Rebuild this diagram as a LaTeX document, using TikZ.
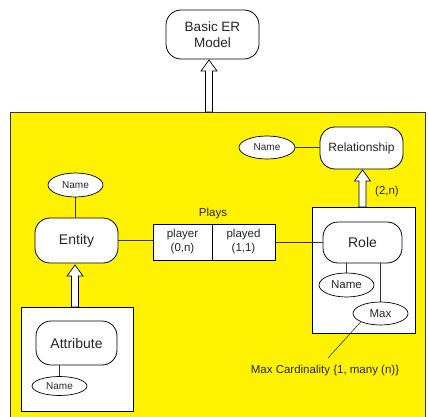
\documentclass[tikz,border=0pt]{standalone}
\usepackage{fontspec}
\setmainfont{Liberation Sans}
\usetikzlibrary{calc,shapes.geometric}

\tikzset{
  big/.style={font=\fontsize{14}{16}\selectfont},
  mid/.style={font=\fontsize{11.5}{14}\selectfont},
  small/.style={font=\fontsize{10}{12}\selectfont},
  conceptbox/.style={draw, rounded corners=15pt, fill=white, line width=0.8pt,
    inner sep=0pt, text=black!85},
  attrib/.style={draw, ellipse, fill=white, inner sep=0pt, line width=0.7pt,
    text=black!85},
  cell/.style={draw, rectangle, fill=white, inner sep=0pt, line width=0.7pt,
    mid, align=center, text=black!85, minimum height=36pt},
  group/.style={draw, rectangle, fill=white, line width=0.8pt, inner sep=0pt},
  link/.style={draw=black!80, line width=0.7pt},
  hollow/.style={draw, fill=white, line width=0.7pt},
}

% vertical block arrow from #1 (tail) up to #2 (tip)
\newcommand\hollowup[2]{%
  \path[hollow] let \p1=#1, \p2=#2 in
    (\x1-3.5pt,\y1) -- (\x1-3.5pt,\y2-11pt) -- (\x1-8pt,\y2-11pt) -- (\x1,\y2)
    -- (\x1+8pt,\y2-11pt) -- (\x1+3.5pt,\y2-11pt) -- (\x1+3.5pt,\y1) -- cycle;}

\begin{document}
\begin{tikzpicture}[x=1pt,y=-1pt]
  \clip (0,0) rectangle (428,417);

  % yellow package frame
  \node[draw=black!80, fill=yellow, line width=0.8pt, inner sep=0pt,
        minimum width=415pt, minimum height=313pt, anchor=north west]
        (frame) at (10,112) {};

  % top concept
  \node[conceptbox, big, align=center, minimum width=93pt, minimum height=49pt,
        font=\fontsize{13.5}{15.5}\selectfont]
        (model) at (212.5,34.5) {Basic ER\\Model};

  % groups
  \node[group, minimum width=103pt, minimum height=126pt, anchor=north west]
        (roleframe) at (312,207) {};
  \node[group, minimum width=112pt, minimum height=104pt, anchor=north west]
        (attrframe) at (21,307) {};

  % concepts
  \node[conceptbox, minimum width=83pt, minimum height=42pt,
        font=\fontsize{12}{14}\selectfont] (rel) at (361.5,148) {Relationship};
  \node[conceptbox, big, minimum width=83pt, minimum height=45pt]
        (entity) at (76.5,240.5) {Entity};
  \node[conceptbox, big, minimum width=79pt, minimum height=41pt]
        (role) at (362.5,242.5) {Role};
  \node[conceptbox, big, minimum width=81pt, minimum height=44pt]
        (attr) at (76.5,343) {Attribute};

  % attributes
  \node[attrib, small, minimum width=56pt, minimum height=23pt]
        (relname) at (267,147.5) {Name};
  \node[attrib, small, minimum width=55pt, minimum height=24pt]
        (entname) at (75.5,185) {Name};
  \node[attrib, mid, minimum width=55pt, minimum height=24pt]
        (rolename) at (346.5,285) {Name};
  \node[attrib, mid, minimum width=55pt, minimum height=23pt]
        (max) at (380.5,313.5) {Max};
  \node[attrib, small, minimum width=55pt, minimum height=19pt]
        (attrname) at (59.5,386) {Name};

  % Plays association
  \node[mid, text=black!85] (plays) at (213,214) {Plays};
  \node[cell, minimum width=59pt] (player) at (182.5,242) {player\\(0,n)};
  \node[cell, minimum width=63pt] (played) at (243.5,242) {played\\(1,1)};

  % connectors
  \draw[link] (relname.east) -- (rel.west |- relname.east);
  \draw[link] (entname.south) -- (entname.south |- entity.north);
  \draw[link] (entity.east) -- (player.west |- entity.east);
  \draw[link] (played.east |- role.west) -- (role.west);
  \draw[link] (rolename.north |- role.south) -- (rolename.north);
  \draw[link] (max.north |- role.south) -- (max.north);
  \draw[link] (attrname.north |- attr.south) -- (attrname.north);

  % cardinality note
  \node[mid, text=black!85] (card) at (325,371) {Max Cardinality \{1, many (n)\}};
  \coordinate (cardend) at (328,358);
  \draw[link, line width=0.6pt] (max.south west) -- (cardend);
  \node[mid, text=black!85] (twon) at (387,192) {(2,n)};

  % generalisation arrows
  \coordinate (pkgtop) at (209,112);
  \coordinate (modelfoot) at (209,60);
  \hollowup{(pkgtop)}{(modelfoot)}
  \coordinate (roletop) at (362.5,207);
  \coordinate (relfoot) at (362.5,170);
  \hollowup{(roletop)}{(relfoot)}
  \coordinate (attrtop) at (75,307);
  \coordinate (entfoot) at (75,265);
  \hollowup{(attrtop)}{(entfoot)}
\end{tikzpicture}
\end{document}
